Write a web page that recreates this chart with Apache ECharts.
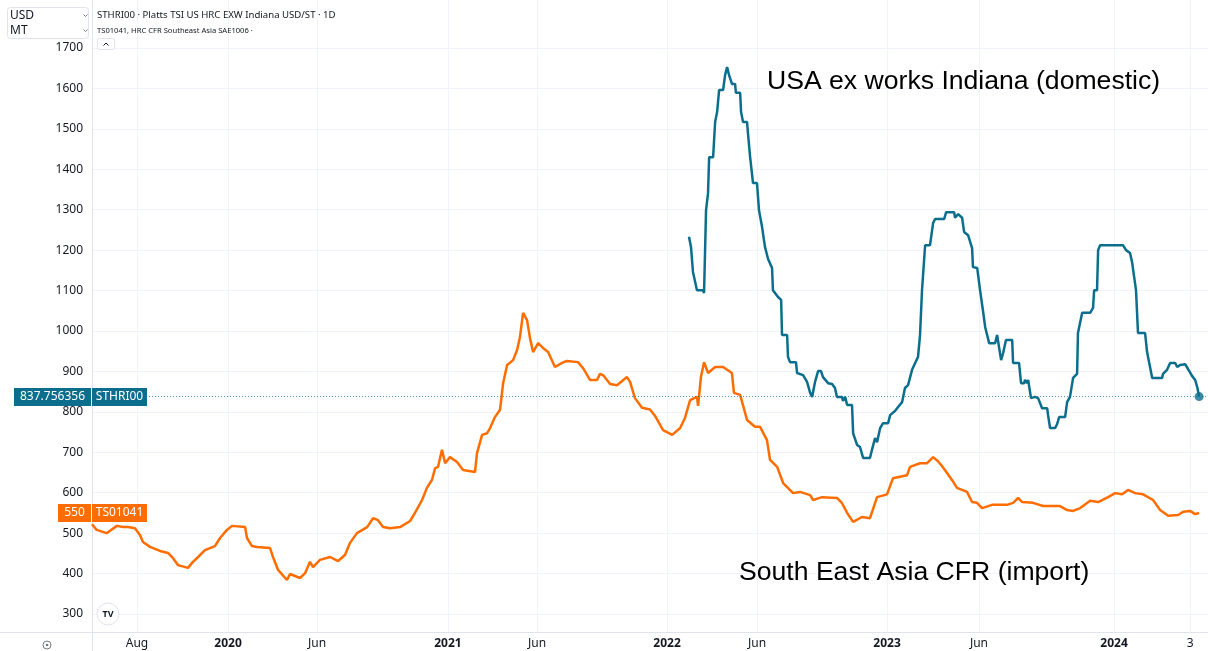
<!DOCTYPE html>
<html><head><meta charset="utf-8">
<script src="https://cdn.jsdelivr.net/npm/echarts@6/dist/echarts.min.js"></script>
<style>html,body{margin:0;padding:0;background:#fff}#c{width:1208px;height:651px}</style>
</head><body><div id="c"></div>
<script>
// ---- x ticks (decimal years) and labels ----
const tickVals = [2019.589, 2020, 2020.402, 2020.993, 2021.395, 2021.982, 2022.388, 2022.975, 2023.390, 2024, 2024.343];
const tickLabels = ['Aug', '2020', 'Jun', '2021', 'Jun', '2022', 'Jun', '2023', 'Jun', '2024', '3'];
const yTicks = [300, 400, 500, 600, 700, 800, 900, 1000, 1100, 1200, 1300, 1400, 1500, 1600, 1700];

// ---- South East Asia CFR (TS01041) ----
const orangeName = 'TS01041';
const orangeT = [2019.386,2019.407,2019.452,2019.498,2019.526,2019.549,2019.580,2019.603,2019.616,2019.648,
2019.693,2019.729,2019.752,2019.774,2019.819,2019.842,2019.865,2019.896,2019.941,2019.964,
2019.995,2020.018,2020.077,2020.086,2020.108,2020.131,2020.190,2020.203,2020.226,2020.266,
2020.280,2020.325,2020.348,2020.370,2020.384,2020.415,2020.461,2020.497,2020.528,2020.551,
2020.582,2020.628,2020.655,2020.677,2020.700,2020.731,2020.777,2020.822,2020.844,2020.876,
2020.898,2020.921,2020.935,2020.948,2020.966,2020.980,2021.002,2021.034,2021.061,2021.115,
2021.124,2021.147,2021.169,2021.183,2021.205,2021.228,2021.242,2021.260,2021.287,2021.305,
2021.318,2021.332,2021.350,2021.363,2021.377,2021.400,2021.422,2021.445,2021.476,2021.508,
2021.530,2021.580,2021.603,2021.634,2021.666,2021.679,2021.693,2021.725,2021.756,2021.801,
2021.815,2021.837,2021.869,2021.905,2021.928,2021.964,2022.005,2022.041,2022.063,2022.086,
2022.117,2022.122,2022.135,2022.149,2022.167,2022.199,2022.235,2022.275,2022.284,2022.312,
2022.343,2022.379,2022.402,2022.433,2022.447,2022.479,2022.506,2022.551,2022.582,2022.628,
2022.641,2022.682,2022.749,2022.772,2022.795,2022.822,2022.862,2022.898,2022.930,2022.975,
2023.002,2023.065,2023.079,2023.124,2023.156,2023.183,2023.205,2023.223,2023.246,2023.269,
2023.291,2023.336,2023.359,2023.381,2023.404,2023.449,2023.517,2023.544,2023.567,2023.585,
2023.634,2023.679,2023.756,2023.788,2023.815,2023.847,2023.892,2023.928,2023.973,2024.005,
2024.036,2024.063,2024.095,2024.131,2024.176,2024.208,2024.244,2024.289,2024.312,2024.343,
2024.366,2024.384];
const orangeV = [522,508,500,518,515,515,512,495,478,466,
456,451,438,421,414,429,441,458,468,488,
508,518,515,488,468,466,463,441,409,384,
399,389,401,429,416,434,441,431,446,476,
500,515,537,532,515,512,515,530,550,582,
612,632,661,664,706,673,688,676,656,651,
698,743,747,760,787,805,871,916,928,953,
985,1045,1027,983,948,970,958,948,911,921,
926,923,908,879,879,894,891,869,866,886,
874,834,810,806,790,755,743,760,785,829,
837,815,886,923,896,911,911,896,847,842,
780,763,763,730,681,664,624,599,602,594,
582,589,587,574,550,528,540,537,589,596,
636,643,664,673,673,688,678,666,649,631,
612,602,577,575,562,570,570,575,587,577,
575,567,567,557,555,562,580,577,589,599,
596,607,599,596,582,557,543,545,553,555,
547,550];

// ---- USA ex works Indiana (STHRI00) ----
const tealName = 'STHRI00';
const tealT = [2022.081,2022.090,2022.099,2022.108,2022.117,2022.144,2022.149,2022.158,2022.167,2022.172,
2022.190,2022.199,2022.208,2022.217,2022.235,2022.244,2022.253,2022.262,2022.275,2022.289,
2022.293,2022.312,2022.316,2022.325,2022.343,2022.348,2022.357,2022.370,2022.388,2022.397,
2022.411,2022.424,2022.438,2022.456,2022.460,2022.483,2022.497,2022.501,2022.524,2022.528,
2022.537,2022.564,2022.569,2022.596,2022.614,2022.628,2022.637,2022.650,2022.664,2022.677,
2022.686,2022.709,2022.727,2022.740,2022.749,2022.772,2022.776,2022.786,2022.795,2022.817,
2022.822,2022.840,2022.853,2022.867,2022.898,2022.907,2022.921,2022.930,2022.944,2022.957,
2022.980,2022.989,2023.011,2023.025,2023.043,2023.056,2023.070,2023.088,2023.102,2023.115,
2023.124,2023.133,2023.147,2023.169,2023.183,2023.192,2023.233,2023.242,2023.278,2023.282,
2023.296,2023.314,2023.323,2023.341,2023.359,2023.363,2023.382,2023.395,2023.409,2023.418,
2023.436,2023.463,2023.472,2023.481,2023.490,2023.499,2023.512,2023.540,2023.544,2023.571,
2023.580,2023.594,2023.598,2023.607,2023.612,2023.625,2023.643,2023.657,2023.675,2023.698,
2023.702,2023.711,2023.734,2023.743,2023.752,2023.779,2023.788,2023.801,2023.815,2023.833,
2023.837,2023.856,2023.892,2023.905,2023.910,2023.923,2023.928,2023.937,2024.041,2024.054,
2024.072,2024.081,2024.090,2024.099,2024.108,2024.140,2024.149,2024.158,2024.172,2024.217,
2024.221,2024.239,2024.253,2024.276,2024.285,2024.298,2024.321,2024.334,2024.352,2024.366,
2024.375,2024.384];
const tealV = [1233,1208,1146,1143,1101,1101,1094,1299,1341,1430,
1430,1517,1542,1596,1596,1633,1653,1633,1611,1611,
1589,1589,1542,1517,1517,1485,1430,1366,1366,1299,
1257,1208,1178,1156,1101,1084,1077,990,990,936,
923,923,896,891,874,847,837,874,901,901,
886,871,869,859,837,837,827,837,817,817,
747,718,713,686,686,706,735,725,760,772,
772,792,802,812,824,859,866,904,921,936,
990,1101,1212,1212,1267,1277,1277,1294,1294,1280,
1289,1280,1245,1237,1205,1158,1156,1101,1047,1010,
970,970,990,990,928,945,978,978,921,921,
871,871,879,871,879,834,837,834,809,809,
792,760,760,770,787,787,824,837,884,894,
995,1045,1045,1057,1101,1101,1200,1212,1212,1200,
1193,1171,1171,1101,995,995,948,948,884,884,
894,904,921,921,911,916,918,906,889,879,
862,837.756356];

const TEAL = '#0b6e8c';
const ORANGE = '#ff6d00';
const GRIDC = '#f0f3fa';
const AXISC = '#e0e3eb';
const TXT = '#131722';
const UIF = '"Noto Sans", "Open Sans", sans-serif';
const ANNF = '26.6px "Liberation Sans", Arial, sans-serif';

const zip = (a, b) => a.map((t, i) => [t, b[i]]);
const orangeData = zip(orangeT, orangeV);
const tealData = zip(tealT, tealV);
const tealLast = tealV[tealV.length - 1];
const orangeLast = orangeV[orangeV.length - 1];

const chart = echarts.init(document.getElementById('c'));

const staticGraphic = [
  { type: 'line', shape: { x1: 92.5, y1: 0, x2: 92.5, y2: 651 }, style: { stroke: AXISC, lineWidth: 1 }, z: 1 },
  { type: 'line', shape: { x1: 0, y1: 632.5, x2: 1208, y2: 632.5 }, style: { stroke: AXISC, lineWidth: 1 }, z: 1 },
  { type: 'rect', shape: { x: 7.5, y: 7.5, width: 81, height: 31, r: 3 }, style: { fill: '#fff', stroke: AXISC }, z: 10 },
  { type: 'text', x: 10, y: 15.5, style: { text: 'USD', font: '12px ' + UIF, fill: TXT, verticalAlign: 'middle' }, z: 11 },
  { type: 'text', x: 10, y: 30.5, style: { text: 'MT', font: '12px ' + UIF, fill: TXT, verticalAlign: 'middle' }, z: 11 },
  { type: 'polyline', shape: { points: [[83.5, 14.5], [85.5, 16.5], [87.5, 14.5]] }, style: { stroke: '#787b86', fill: null, lineWidth: 1 }, z: 11 },
  { type: 'polyline', shape: { points: [[83.5, 29.5], [85.5, 31.5], [87.5, 29.5]] }, style: { stroke: '#787b86', fill: null, lineWidth: 1 }, z: 11 },
  { type: 'text', x: 97, y: 15.5, style: { text: 'STHRI00 · Platts TSI US HRC EXW Indiana USD/ST · 1D', font: '9.6px ' + UIF, fill: TXT, verticalAlign: 'middle' }, z: 11 },
  { type: 'text', x: 97, y: 30.5, style: { text: 'TS01041, HRC CFR Southeast Asia SAE1006 ·', font: '7.6px ' + UIF, fill: TXT, verticalAlign: 'middle' }, z: 11 },
  { type: 'rect', shape: { x: 97.5, y: 38.5, width: 17, height: 11, r: 2 }, style: { fill: '#fff', stroke: AXISC }, z: 10 },
  { type: 'polyline', shape: { points: [[103.5, 45.5], [106, 43], [108.5, 45.5]] }, style: { stroke: TXT, fill: null, lineWidth: 1 }, z: 11 },
  { type: 'circle', shape: { cx: 108, cy: 614, r: 11 }, style: { fill: '#fff', stroke: AXISC }, z: 10 },
  { type: 'text', x: 108, y: 614, style: { text: 'TV', font: 'bold 9px ' + UIF, fill: TXT, align: 'center', verticalAlign: 'middle' }, z: 11 },
  { type: 'circle', shape: { cx: 47, cy: 645, r: 4 }, style: { fill: '#fff', stroke: '#787b86', lineWidth: 1 }, z: 10 },
  { type: 'circle', shape: { cx: 47, cy: 645, r: 1.3 }, style: { fill: '#787b86' }, z: 11 },
  { type: 'text', x: 767, y: 82, style: { text: 'USA ex works Indiana (domestic)', font: ANNF, fill: '#000', verticalAlign: 'middle' }, z: 11 },
  { type: 'text', x: 739, y: 573, style: { text: 'South East Asia CFR (import)', font: ANNF, fill: '#000', verticalAlign: 'middle' }, z: 11 }
];

chart.setOption({
  animation: false,
  backgroundColor: '#fff',
  grid: { left: 92, right: 0, top: 0, bottom: 19, containLabel: false },
  xAxis: {
    type: 'value',
    min: 2019.386,
    max: 2024.424,
    axisLine: { show: false },
    axisTick: { show: false, customValues: tickVals },
    axisLabel: {
      customValues: tickVals,
      margin: 6,
      color: TXT,
      fontFamily: UIF,
      fontSize: 12,
      formatter: function (v) {
        let i = -1, best = 1e9;
        tickVals.forEach((t, k) => { const d = Math.abs(t - v); if (d < best) { best = d; i = k; } });
        const s = tickLabels[i];
        return /^\d{4}$/.test(s) ? '{b|' + s + '}' : s;
      },
      rich: { b: { fontWeight: 'bold', fontSize: 12, color: TXT, fontFamily: UIF } }
    },
    splitLine: { show: true, lineStyle: { color: GRIDC, width: 1 } }
  },
  yAxis: {
    type: 'value',
    position: 'left',
    min: 255.5,
    max: 1818.7,
    axisLine: { show: false },
    axisTick: { show: false, customValues: yTicks },
    axisLabel: { customValues: yTicks, margin: 9, color: TXT, fontFamily: UIF, fontSize: 12, formatter: v => String(Math.round(v)) },
    splitLine: { show: true, lineStyle: { color: GRIDC, width: 1 } }
  },
  graphic: staticGraphic,
  series: [
    {
      name: orangeName, type: 'line', data: orangeData, showSymbol: false, smooth: false,
      lineStyle: { color: ORANGE, width: 2.5 }, itemStyle: { color: ORANGE }, z: 3
    },
    {
      name: tealName, type: 'line', data: tealData, showSymbol: false, smooth: false,
      lineStyle: { color: TEAL, width: 2.5 }, itemStyle: { color: TEAL }, z: 4,
      markLine: {
        silent: true, symbol: ['none', 'none'], label: { show: false },
        lineStyle: { color: 'rgba(11,110,140,0.7)', type: [1, 2], width: 1 },
        data: [{ yAxis: tealLast }]
      }
    },
    {
      type: 'scatter', data: [tealData[tealData.length - 1]], symbolSize: 9,
      itemStyle: { color: TEAL }, z: 5, silent: true
    }
  ]
});

const ty = Math.round(chart.convertToPixel({ yAxisIndex: 0 }, tealLast));
const oy = Math.round(chart.convertToPixel({ yAxisIndex: 0 }, orangeLast));
const tagFont = '12px ' + UIF;
const tags = [
  { type: 'rect', shape: { x: 14, y: ty - 9, width: 77, height: 18 }, style: { fill: TEAL }, z: 20 },
  { type: 'text', x: 52.5, y: ty, style: { text: String(tealLast), font: tagFont, fill: '#fff', align: 'center', verticalAlign: 'middle' }, z: 21 },
  { type: 'rect', shape: { x: 92, y: ty - 9, width: 55, height: 18 }, style: { fill: TEAL }, z: 20 },
  { type: 'text', x: 119.5, y: ty, style: { text: tealName, font: tagFont, fill: '#fff', align: 'center', verticalAlign: 'middle' }, z: 21 },
  { type: 'rect', shape: { x: 58, y: oy - 9, width: 33, height: 18 }, style: { fill: ORANGE }, z: 20 },
  { type: 'text', x: 74.5, y: oy, style: { text: String(orangeLast), font: tagFont, fill: '#fff', align: 'center', verticalAlign: 'middle' }, z: 21 },
  { type: 'rect', shape: { x: 92, y: oy - 9, width: 55, height: 18 }, style: { fill: ORANGE }, z: 20 },
  { type: 'text', x: 119.5, y: oy, style: { text: orangeName, font: tagFont, fill: '#fff', align: 'center', verticalAlign: 'middle' }, z: 21 }
];
chart.setOption({ graphic: staticGraphic.concat(tags) });
</script>
</body></html>
